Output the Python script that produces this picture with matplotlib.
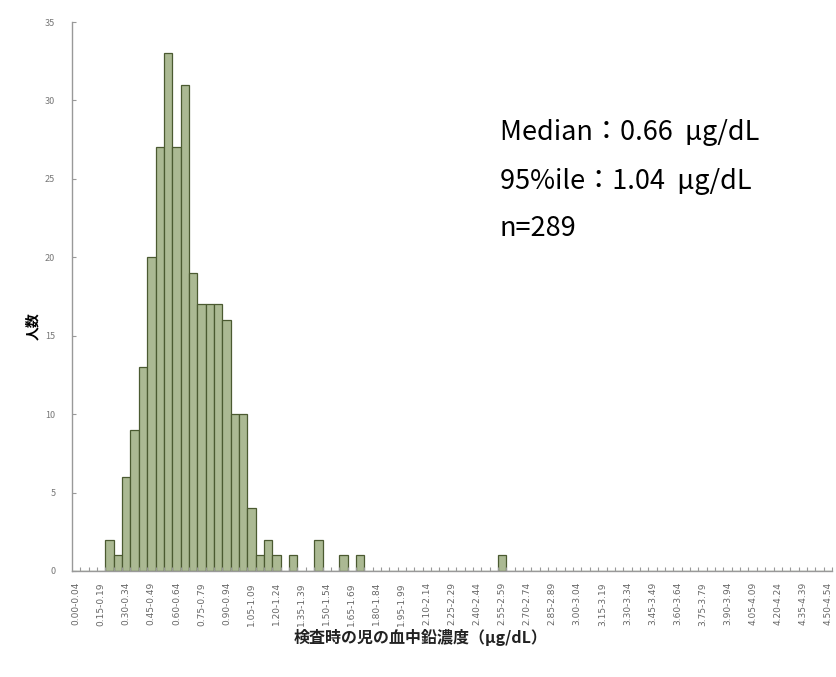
import numpy as np
import matplotlib
matplotlib.use("Agg")
import matplotlib.pyplot as plt

plt.rcParams['font.family'] = ['Noto Sans CJK JP', 'DejaVu Sans']

# lower bound of each 0.05 bin (0.00-0.04 ... 4.50-4.54)
bin_lows = [round(0.05 * i, 2) for i in range(91)]
bin_labels = [f"{lo:.2f}-{lo + 0.04:.2f}" for lo in bin_lows]

# number of children per bin
counts = [0, 0, 0, 0, 2, 1, 6, 9, 13, 20,
          27, 33, 27, 31, 19, 17, 17, 17, 16, 10,
          10, 4, 1, 2, 1, 0, 1, 0, 0, 2,
          0, 0, 1, 0, 1, 0, 0, 0, 0, 0,
          0, 0, 0, 0, 0, 0, 0, 0, 0, 0,
          0, 1, 0, 0, 0, 0, 0, 0, 0, 0,
          0, 0, 0, 0, 0, 0, 0, 0, 0, 0,
          0, 0, 0, 0, 0, 0, 0, 0, 0, 0,
          0, 0, 0, 0, 0, 0, 0, 0, 0, 0,
          0]

stats_lines = ["Median：0.66  μg/dL", "95%ile：1.04  μg/dL", "n=289"]

fig = plt.figure(figsize=(8.36, 6.77), dpi=100)
ax = fig.add_axes([72 / 836, 1 - 571 / 677, 760 / 836, 549 / 677])

x = np.arange(len(counts))
ax.bar(x, counts, width=1.0, align='edge', color='#abb993',
       edgecolor='#4b5a31', linewidth=0.9)

ax.set_xlim(0, len(counts))
ax.set_ylim(0, 35)
ax.set_yticks(range(0, 36, 5))

# labels every third category, tick marks at category borders
ax.set_xticks(x[::3] + 0.5)
ax.set_xticklabels(bin_labels[::3], rotation=90, fontsize=6.5,
                   color='#666666', family='DejaVu Sans')
ax.set_xticks(np.arange(1, len(counts) + 1), minor=True)
ax.tick_params(axis='x', which='major', length=0, pad=8)
ax.tick_params(axis='x', which='minor', length=3, direction='in',
               color='#999999', width=0.8)
ax.tick_params(axis='y', length=3, direction='in', color='#999999',
               width=0.8, pad=12, labelsize=6.5, labelcolor='#777777')

for s in ['top', 'right']:
    ax.spines[s].set_visible(False)
for s in ['left', 'bottom']:
    ax.spines[s].set_color('#999999')
    ax.spines[s].set_linewidth(1.0)

fig.text(33 / 836, 1 - 326 / 677, "人数", rotation=90, ha='center',
         va='center', fontsize=10, fontweight='bold')
fig.text(421 / 836, 1 - 637 / 677, "検査時の児の血中鉛濃度（μg/dL）",
         ha='center', va='center', fontsize=11.5, fontweight='bold',
         color='#222222')

for i, line in enumerate(stats_lines):
    fig.text(500 / 836, 1 - (133 + 48 * i) / 677, line, ha='left',
             va='center', fontsize=19.5)

fig.savefig("out.png", dpi=100)
